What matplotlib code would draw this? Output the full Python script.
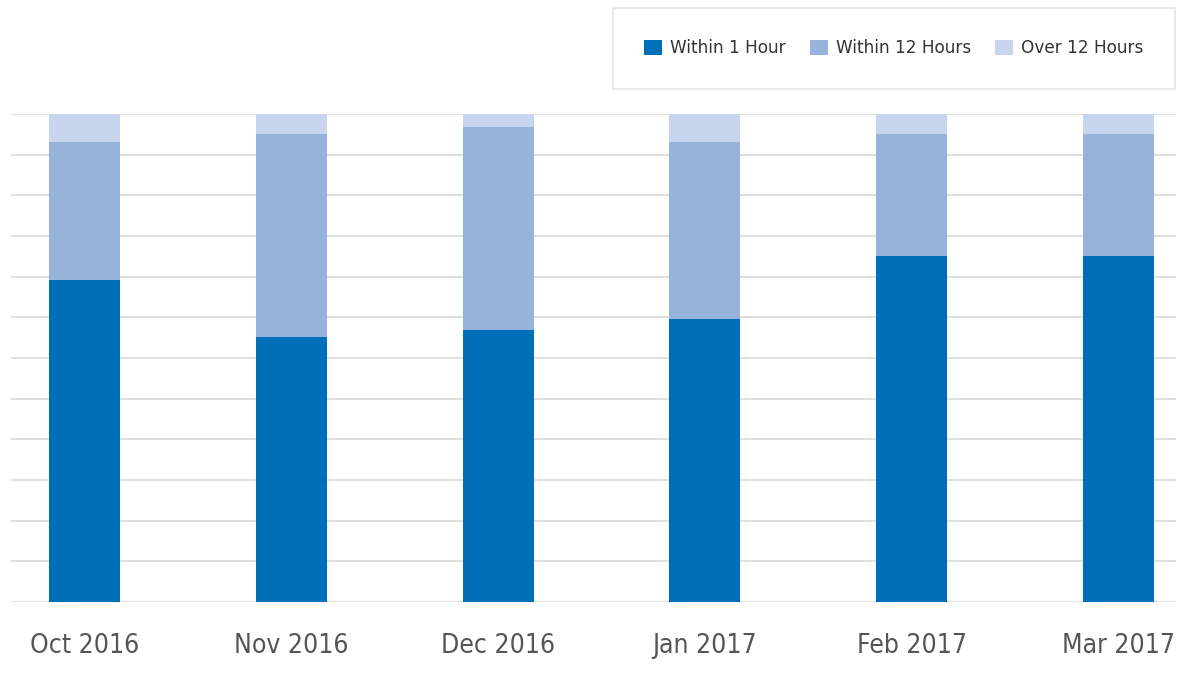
import matplotlib
matplotlib.use("Agg")
from matplotlib import pyplot as plt
import numpy as np

months = ["Oct 2016", "Nov 2016", "Dec 2016", "Jan 2017", "Feb 2017", "Mar 2017"]
within_1h = [66.0, 54.3, 55.7, 58.0, 70.9, 70.9]
within_12h = [28.3, 41.6, 41.6, 36.3, 25.0, 25.0]
over_12h = [5.7, 4.1, 2.7, 5.7, 4.1, 4.1]

colors = ["#006fba", "#97b3dc", "#c7d5ee"]
labels = ["Within 1 Hour", "Within 12 Hours", "Over 12 Hours"]

fig = plt.figure(figsize=(11.83, 6.80), dpi=100)
ax = fig.add_axes([11 / 1183, 78 / 680, 1165 / 1183, 488 / 680])

x = np.arange(len(months))
w = 0.343
bottom = np.zeros(len(months))
for vals, c, lab in zip([within_1h, within_12h, over_12h], colors, labels):
    ax.bar(x, vals, w, bottom=bottom, color=c, label=lab, zorder=2)
    bottom += np.array(vals)

ax.set_ylim(0, 100)
ax.set_xlim(-0.355, 5.278)
ax.set_yticks(np.linspace(0, 100, 13))
ax.yaxis.grid(True, color="#e0e0e0", linewidth=1.4, zorder=0)
ax.tick_params(axis="y", length=0, labelleft=False)
ax.tick_params(axis="x", length=0, pad=22)
ax.set_xticks(x)
ax.set_xticklabels(months, fontsize=19, color="#555555",
                   family="DejaVu Sans", fontstretch="condensed")
for s in ax.spines.values():
    s.set_visible(False)

leg = fig.legend(loc="upper right", bbox_to_anchor=(1175 / 1183, 1 - 8 / 680),
                 ncol=3, frameon=True, fancybox=False, fontsize=12.2,
                 handlelength=1.05, handleheight=1.05, handletextpad=0.5,
                 columnspacing=1.4, borderpad=1.85, borderaxespad=0)
leg.get_frame().set_edgecolor("#dddddd")
leg.get_frame().set_linewidth(1.2)
for t in leg.get_texts():
    t.set_color("#333333")

fig.savefig("out.png", dpi=100)
